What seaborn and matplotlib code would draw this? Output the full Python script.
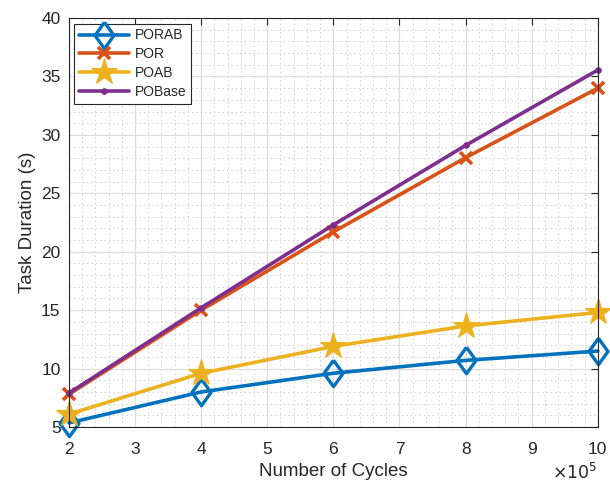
import matplotlib
matplotlib.use('Agg')
import matplotlib.pyplot as plt
from matplotlib.ticker import MultipleLocator
import seaborn as sns
import pandas as pd

# data (x in units of 1e5 cycles)
cycles = [2, 4, 6, 8, 10]
porab = [5.35, 8.0, 9.6, 10.7, 11.5]
por = [7.8, 15.0, 21.7, 28.05, 34.0]
poab = [6.1, 9.6, 11.9, 13.65, 14.8]
pobase = [7.9, 15.2, 22.3, 29.1, 35.55]

sns.set_style('white')
plt.rcParams['font.family'] = ['Liberation Sans', 'DejaVu Sans']

# MATLAB-like diamond (a bit wider than 'd')
diamond = [(0, 1), (0.72, 0), (0, -1), (-0.72, 0), (0, 1)]

fig, ax = plt.subplots(figsize=(6.1, 4.88), dpi=100)
fig.subplots_adjust(left=0.113, right=0.980, top=0.963, bottom=0.125)

lw = 2.6
sns.lineplot(x=cycles, y=porab, ax=ax, color='#0072BD', lw=lw, label='PORAB',
             marker=diamond, markersize=19, markerfacecolor='none',
             markeredgecolor='#0072BD', markeredgewidth=2.4, clip_on=False)
sns.lineplot(x=cycles, y=por, ax=ax, color='#D95319', lw=lw, label='POR',
             marker='x', markersize=9, markeredgewidth=2.6,
             markeredgecolor='#D95319', clip_on=False)
sns.lineplot(x=cycles, y=poab, ax=ax, color='#EDB120', lw=lw, label='POAB',
             marker='*', markersize=20, markerfacecolor='#EDB120',
             markeredgecolor='#EDB120', clip_on=False)
sns.lineplot(x=cycles, y=pobase, ax=ax, color='#7E2F8E', lw=lw, label='POBase',
             marker='o', markersize=4, markerfacecolor='#7E2F8E',
             markeredgecolor='#7E2F8E', clip_on=False)

ax.set_xlim(2, 10)
ax.set_ylim(5, 40)
ax.xaxis.set_major_locator(MultipleLocator(1))
ax.xaxis.set_minor_locator(MultipleLocator(0.2))
ax.yaxis.set_major_locator(MultipleLocator(5))
ax.yaxis.set_minor_locator(MultipleLocator(1))

ax.grid(which='major', color='#dddddd', lw=0.9, ls='-')
ax.grid(which='minor', color='#cfcfcf', lw=0.7, ls=(0, (1.5, 3)))
ax.set_axisbelow(True)

ax.tick_params(which='major', direction='in', length=5, width=0.8,
               top=True, right=True, labelsize=12.5, colors='#262626')
ax.tick_params(axis='x', pad=11)
ax.tick_params(axis='y', pad=6)
ax.tick_params(which='minor', length=0)
for s in ax.spines.values():
    s.set_color('#262626')
    s.set_linewidth(0.8)

ax.set_xlabel('Number of Cycles', fontsize=13.5, color='#262626', labelpad=4)
ax.set_ylabel('Task Duration (s)', fontsize=13.5, color='#262626')
ax.text(1.0, -0.085, r'$\times 10^5$', transform=ax.transAxes, ha='right',
        va='top', fontsize=12.5, color='#262626')

leg = ax.legend(loc='upper left', fontsize=10, frameon=True, fancybox=False,
                edgecolor='#262626', framealpha=1, handlelength=3.6,
                borderaxespad=0.4, labelspacing=0.35, borderpad=0.35,
                handletextpad=0.4)
leg.get_frame().set_linewidth(0.8)

plt.savefig('out.png', dpi=100)
